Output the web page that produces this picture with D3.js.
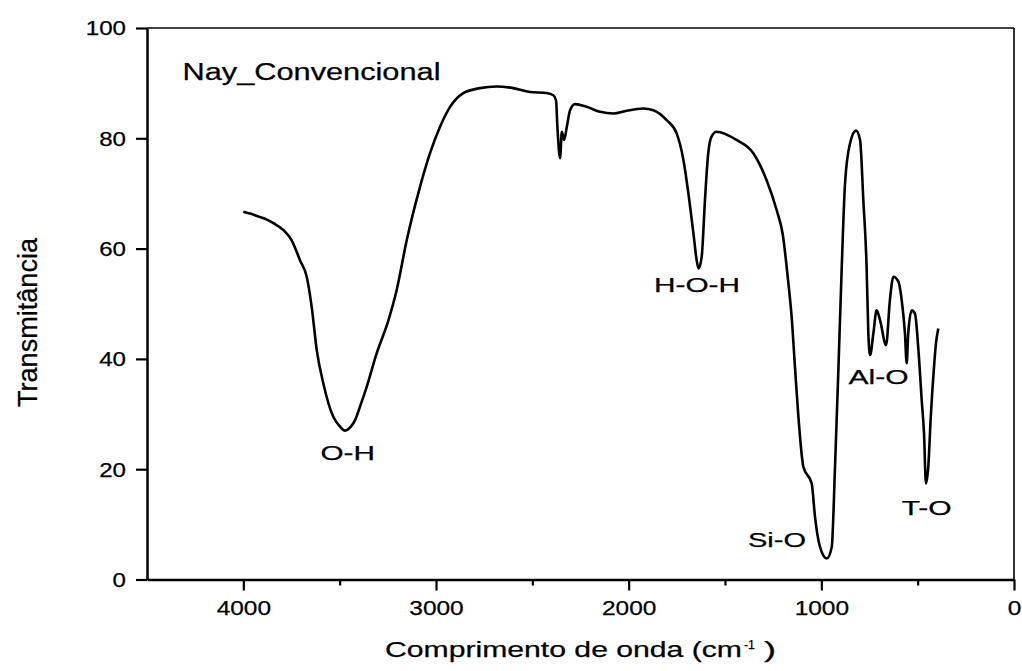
<!DOCTYPE html>
<html>
<head>
<meta charset="utf-8">
<script src="https://cdn.jsdelivr.net/npm/d3@7"></script>
<style>
  html, body { margin: 0; padding: 0; background: #fff; }
  svg { display: block; }
  text { font-family: "Liberation Sans", Arial, sans-serif; fill: #000; stroke: #000; stroke-width: 0.25px; }
</style>
</head>
<body>
<svg id="chart" width="1022" height="671"></svg>
<script>
// ---- data ----
const wavenumber = [4000, 3960, 3920, 3880, 3844, 3793, 3749, 3706, 3671, 3645, 3619, 3585, 3533, 3500, 3472, 3440, 3420, 3390, 3360, 3308, 3247, 3204, 3152, 3083, 3031, 2979, 2927, 2858, 2772, 2685, 2599, 2512, 2426, 2391, 2377, 2370, 2356, 2347, 2335, 2321, 2304, 2278, 2218, 2148, 2079, 2010, 1924, 1872, 1803, 1751, 1716, 1690, 1664, 1647, 1637, 1621, 1604, 1587, 1570, 1544, 1440, 1353, 1284, 1232, 1200, 1171, 1154, 1137, 1119, 1093, 1050, 1033, 1007, 972, 946, 929, 911, 894, 877, 851, 820, 799, 782, 765, 756, 747, 730, 713, 695, 664, 644, 626, 600, 583, 566, 557, 549, 531, 514, 496, 479, 467, 457, 445, 432, 415, 405, 393];
const transmittance = [66.7, 66.3, 65.8, 65.3, 64.6, 63.4, 61.5, 57.9, 54.9, 49.4, 41.6, 35.6, 29.5, 27.8, 27.0, 27.8, 28.9, 31.8, 34.9, 41.0, 47.0, 52.5, 61.5, 71.2, 77.3, 82.1, 85.7, 88.2, 89.1, 89.4, 89.1, 88.4, 88.2, 87.8, 86.9, 82.1, 76.4, 81.2, 79.7, 82.1, 85.1, 86.2, 85.7, 84.8, 84.5, 85.0, 85.4, 85.1, 83.3, 80.9, 76.1, 70.0, 62.8, 57.9, 56.4, 58.5, 68.8, 77.3, 80.3, 81.2, 79.7, 77.3, 72.4, 67.0, 62.5, 53.7, 47.6, 38.6, 29.5, 20.4, 17.4, 11.4, 5.9, 3.8, 5.9, 20.4, 38.6, 56.7, 71.8, 79.1, 81.4, 79.7, 68.8, 56.7, 44.6, 40.7, 44.6, 48.8, 47.0, 42.5, 50.7, 54.9, 54.0, 50.7, 44.6, 39.2, 44.6, 48.8, 48.2, 41.6, 32.5, 26.5, 17.4, 20.4, 29.5, 38.6, 42.8, 45.5];

const xMajorTicks = [4000, 3000, 2000, 1000, 0];
const xMinorTicks = [3500, 2500, 1500, 500];
const yTicks = [0, 20, 40, 60, 80, 100];

const sampleName = "Nay_Convencional";
const bandLabels = ["O-H", "H-O-H", "Si-O", "Al-O", "T-O"];
const xTitle = "Comprimento de onda (cm";
const yTitle = "Transmitância";

// ---- layout ----
const svg = d3.select("#chart");
const mLeft = 147, mRight = 1014, mTop = 28, mBottom = 579.5;

const x = d3.scaleLinear().domain([4500, 0]).range([mLeft, mRight]);
const y = d3.scaleLinear().domain([0, 100]).range([mBottom, mTop]);

// frame (top & right thin)
svg.append("line").attr("x1", mLeft).attr("x2", mRight).attr("y1", mTop).attr("y2", mTop)
  .attr("stroke", "#000").attr("stroke-width", 1.3);
svg.append("line").attr("x1", mRight).attr("x2", mRight).attr("y1", mTop).attr("y2", mBottom)
  .attr("stroke", "#000").attr("stroke-width", 1.6);

// x axis
const gx = svg.append("g").attr("transform", `translate(0,${mBottom})`);
gx.call(d3.axisBottom(x).tickValues(xMinorTicks).tickSize(6).tickFormat(""));
gx.call(g => g.select(".domain").remove());
const gx2 = svg.append("g").attr("transform", `translate(0,${mBottom})`);
gx2.call(d3.axisBottom(x).tickValues(xMajorTicks).tickSize(11).tickSizeOuter(0).tickPadding(10).tickFormat(d3.format("d")));
[gx, gx2].forEach(g => {
  g.selectAll(".tick line").attr("stroke", "#000").attr("stroke-width", 2.2);
});
gx2.select(".domain").attr("stroke", "#000").attr("stroke-width", 2.5);
gx2.selectAll(".tick text")
  .attr("font-size", 20).attr("y", 21).attr("dy", "0.71em")
  .attr("font-family", "Liberation Sans, Arial, sans-serif")
  .attr("textLength", d => String(d).length * 13.6)
  .attr("lengthAdjust", "spacingAndGlyphs");

// y axis
const gy = svg.append("g").attr("transform", `translate(${mLeft},0)`);
gy.call(d3.axisLeft(y).tickValues(yTicks).tickSize(11).tickSizeOuter(0).tickPadding(10).tickFormat(d3.format("d")));
gy.select(".domain").attr("stroke", "#000").attr("stroke-width", 2.5);
gy.selectAll(".tick line").attr("stroke", "#000").attr("stroke-width", 2.2);
gy.selectAll(".tick text")
  .attr("font-size", 20).attr("x", -21).attr("dy", "0.34em")
  .attr("font-family", "Liberation Sans, Arial, sans-serif")
  .attr("textLength", d => String(d).length * 13.4)
  .attr("lengthAdjust", "spacingAndGlyphs");

// spectrum
const pts = wavenumber.map((w, i) => [w, transmittance[i]]);
const line = d3.line().x(d => x(d[0])).y(d => y(d[1])).curve(d3.curveMonotoneX);
svg.append("path").datum(pts).attr("d", line)
  .attr("fill", "none").attr("stroke", "#000").attr("stroke-width", 2.6)
  .attr("stroke-linejoin", "round");

// sample name
svg.append("text").attr("x", 182.5).attr("y", 80).attr("font-size", 23)
  .attr("textLength", 258).attr("lengthAdjust", "spacingAndGlyphs").text(sampleName);

// band labels
const labelBox = {
  "O-H":   {x: 320.5, y: 460, w: 54.5},
  "H-O-H": {x: 654, y: 292, w: 86},
  "Si-O":  {x: 748, y: 547, w: 58},
  "Al-O":  {x: 848.5, y: 384, w: 60},
  "T-O":   {x: 901.7, y: 515, w: 50}
};
bandLabels.forEach(lbl => {
  const b = labelBox[lbl];
  svg.append("text").attr("x", b.x).attr("y", b.y).attr("font-size", 21)
    .attr("textLength", b.w).attr("lengthAdjust", "spacingAndGlyphs").text(lbl);
});

// axis titles
svg.append("text").attr("x", 385).attr("y", 657).attr("font-size", 22)
  .attr("textLength", 357).attr("lengthAdjust", "spacingAndGlyphs").text(xTitle);
svg.append("text").attr("x", 744).attr("y", 649).attr("font-size", 13)
  .attr("textLength", 11).attr("lengthAdjust", "spacingAndGlyphs").text("-1");
svg.append("text").attr("x", 764).attr("y", 657).attr("font-size", 22)
  .attr("textLength", 12).attr("lengthAdjust", "spacingAndGlyphs").text(")");

svg.append("text").attr("transform", "translate(36.5,322.5) rotate(-90)")
  .attr("text-anchor", "middle").attr("font-size", 28)
  .attr("textLength", 169).attr("lengthAdjust", "spacingAndGlyphs").text(yTitle);
</script>
</body>
</html>
